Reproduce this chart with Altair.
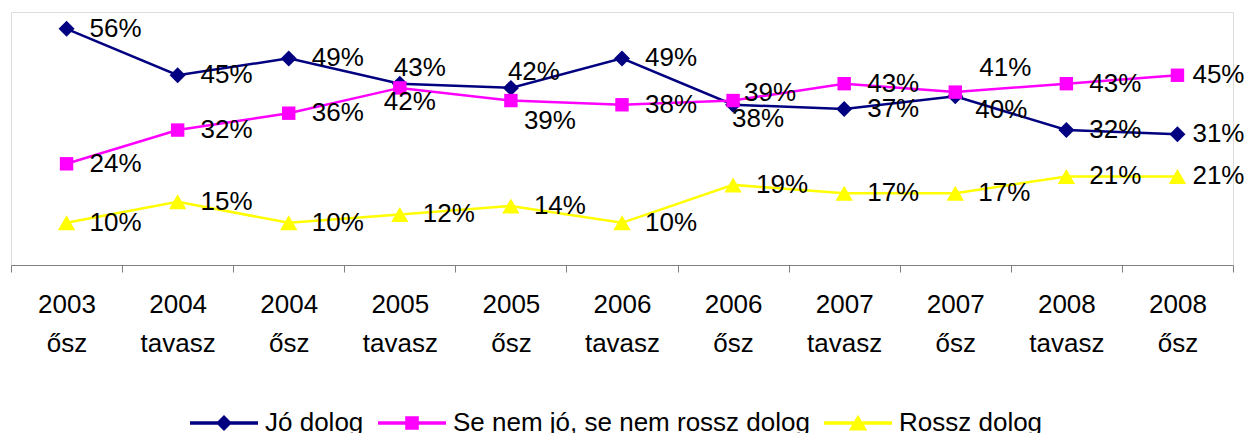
import altair as alt
import pandas as pd

periods = ["2003 ősz", "2004 tavasz", "2004 ősz", "2005 tavasz", "2005 ősz",
           "2006 tavasz", "2006 ősz", "2007 tavasz", "2007 ősz", "2008 tavasz", "2008 ősz"]
series_names = ["Jó dolog", "Se nem jó, se nem rossz dolog", "Rossz dolog"]
jo = [56, 45, 49, 43, 42, 49, 38, 37, 40, 32, 31]
semleges = [24, 32, 36, 42, 39, 38, 39, 43, 41, 43, 45]
rossz = [10, 15, 10, 12, 14, 10, 19, 17, 17, 21, 21]

colors = ["#000080", "#FF00FF", "#FFFF00"]
FONT = "Liberation Sans"

rows = []
for name, vals in zip(series_names, [jo, semleges, rossz]):
    for p, v in zip(periods, vals):
        rows.append({"period": p, "series": name, "value": v, "label": f"{v}%"})
df = pd.DataFrame(rows)

# label placement (center offsets in px relative to the point)
default_off = (49, 0)
last_off = (41, 0)
overrides = {
    ("Jó dolog", "2005 tavasz"): (20, -16),
    ("Jó dolog", "2005 ősz"): (23, -16),
    ("Jó dolog", "2006 ősz"): (25, 14),
    ("Jó dolog", "2007 ősz"): (46, 14),
    ("Se nem jó, se nem rossz dolog", "2005 tavasz"): (10, 14),
    ("Se nem jó, se nem rossz dolog", "2005 ősz"): (39, 20),
    ("Se nem jó, se nem rossz dolog", "2006 ősz"): (37, -8),
    ("Se nem jó, se nem rossz dolog", "2007 ősz"): (50, -24),
}
df["place"] = [
    "%d_%d" % overrides.get((s, p), last_off if p == periods[-1] else default_off)
    for s, p in zip(df["series"], df["period"])
]

x_enc = alt.X("period:N", sort=periods, scale=alt.Scale(paddingInner=0, paddingOuter=0),
              axis=alt.Axis(title=None, labelExpr="split(datum.label, ' ')", labelAngle=0,
                            tickBand="extent", tickSize=7, labelPadding=19,
                            labelLineHeight=39, domainColor="#808080", tickColor="#808080",
                            labelFontSize=26, labelFont=FONT, labelColor="#000000"))
y_enc = alt.Y("value:Q", scale=alt.Scale(domain=[0, 60]), axis=None)

base = alt.Chart(df)

shapes = ["diamond", "square", "triangle-up"]
sizes = [256, 180, 300]
line_layers = []
point_layers = []
for name, col, shp, sz in zip(series_names, colors, shapes, sizes):
    sub = base.transform_filter(alt.datum.series == name)
    line_layers.append(sub.mark_line(strokeWidth=2.5, color=col).encode(x=x_enc, y=y_enc))
    point_layers.append(
        sub.mark_point(shape=shp, filled=True, color=col, size=sz, opacity=1).encode(x=x_enc, y=y_enc)
    )

text_layers = []
for key in sorted(set(df["place"])):
    dx, dy = [int(v) for v in key.split("_")]
    text_layers.append(
        base.transform_filter(alt.datum.place == key).mark_text(
            align="center", baseline="middle", dx=dx, dy=dy, fontSize=26, font=FONT, color="#000000"
        ).encode(x=x_enc, y=y_enc, text="label:N")
    )

leg_paths = [
    "M-1,-0.05L1,-0.05L1,0.05L-1,0.05Z M0,-0.235L0.235,0L0,0.235L-0.235,0Z",
    "M-1,-0.05L1,-0.05L1,0.05L-1,0.05Z M-0.2,-0.2L0.2,-0.2L0.2,0.2L-0.2,0.2Z",
    "M-1,-0.05L1,-0.05L1,0.05L-1,0.05Z M0,-0.24L0.27,0.22L-0.27,0.22Z",
]
legend_cfg = dict(orient="none", legendX=179, legendY=377, direction="horizontal", title=None,
                  labelFontSize=26, labelFont=FONT, labelColor="#000000", labelLimit=0,
                  symbolSize=4624, symbolOpacity=1, symbolStrokeWidth=0, labelOffset=7,
                  columnPadding=14, padding=0)
legend_layer = base.mark_point(filled=True, opacity=0).encode(
    x=x_enc, y=y_enc,
    color=alt.Color("series:N", scale=alt.Scale(domain=series_names, range=colors),
                    legend=alt.Legend(**legend_cfg)),
    shape=alt.Shape("series:N", scale=alt.Scale(domain=series_names, range=leg_paths),
                    legend=alt.Legend(**legend_cfg)),
)

chart = alt.layer(*line_layers, *point_layers, *text_layers, legend_layer).properties(
    width=1222, height=253,
    autosize=alt.AutoSizeParams(type="none"),
    padding={"left": 3, "top": 4, "right": 13, "bottom": 168},
).configure_view(strokeWidth=0).configure(background="#ffffff")

chart.save("out.html", embed_options={"renderer": "svg", "actions": False})
